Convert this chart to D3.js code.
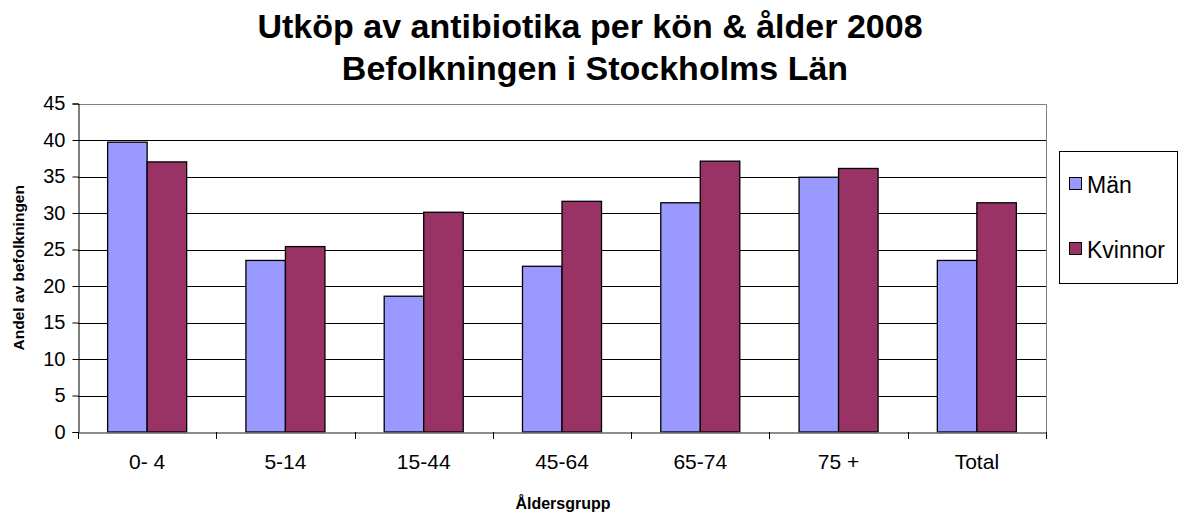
<!DOCTYPE html>
<html>
<head>
<meta charset="utf-8">
<script src="https://cdn.jsdelivr.net/npm/d3@7"></script>
<style>
  body { margin: 0; background: #fff; }
  text { font-family: "Liberation Sans", Arial, sans-serif; }
</style>
</head>
<body>
<div id="chart"></div>
<script>
var categories = ["0- 4", "5-14", "15-44", "45-64", "65-74", "75 +", "Total"];
var seriesNames = ["Män", "Kvinnor"];
var manValues = [39.7, 23.5, 18.6, 22.7, 31.4, 34.9, 23.5];
var kvinnorValues = [37.0, 25.4, 30.1, 31.6, 37.1, 36.1, 31.4];
var yTicks = [0, 5, 10, 15, 20, 25, 30, 35, 40, 45];
var colors = ["#9999ff", "#993366"];

var width = 1179, height = 515;
var plotLeft = 78, plotRight = 1046, plotTop = 103.5, plotBottom = 432;

var svg = d3.select("#chart")
    .append("svg")
    .attr("width", width)
    .attr("height", height);

var x = d3.scaleBand()
    .domain(categories)
    .range([plotLeft, plotRight]);

var y = d3.scaleLinear()
    .domain([0, 45])
    .range([plotBottom, plotTop]);

// bar width: gap width 150% -> group = 3.5 bars
var barW = x.bandwidth() / 3.5;

// gridlines
svg.append("g")
    .selectAll("line")
    .data(yTicks.filter(function (d) { return d > 0 && d < 45; }))
    .enter()
    .append("line")
    .attr("x1", plotLeft)
    .attr("x2", plotRight)
    .attr("y1", function (d) { return Math.round(y(d)) + 0.5; })
    .attr("y2", function (d) { return Math.round(y(d)) + 0.5; })
    .attr("stroke", "#000")
    .attr("stroke-width", 1);

// plot border top and right
svg.append("path")
    .attr("d", "M" + plotLeft + "," + (Math.round(plotTop) + 0.5) + "H" + (plotRight + 0.5) + "V" + plotBottom)
    .attr("fill", "none")
    .attr("stroke", "#808080")
    .attr("stroke-width", 1);

// bars
var data = categories.map(function (c, i) {
    return { cat: c, values: [manValues[i], kvinnorValues[i]] };
});

var group = svg.append("g")
    .selectAll("g")
    .data(data)
    .enter()
    .append("g");

group.selectAll("rect")
    .data(function (d) {
        return d.values.map(function (v, j) { return { cat: d.cat, v: v, j: j }; });
    })
    .enter()
    .append("rect")
    .attr("x", function (d) { return x(d.cat) + barW * 0.75 + d.j * barW; })
    .attr("y", function (d) { return y(d.v); })
    .attr("width", barW)
    .attr("height", function (d) { return plotBottom - y(d.v); })
    .attr("fill", function (d) { return colors[d.j]; })
    .attr("stroke", "#000")
    .attr("stroke-width", 1.3);

// y axis
var yAxis = svg.append("g")
    .attr("transform", "translate(" + (plotLeft + 0.5) + ",0)")
    .call(d3.axisLeft(y).tickValues(yTicks).tickSize(6).tickPadding(7));
yAxis.select(".domain").attr("stroke", "#000");
yAxis.selectAll(".tick line").attr("stroke", "#000");
yAxis.selectAll("text")
    .attr("font-size", 20)
    .attr("fill", "#000")
    .style("font-family", "Liberation Sans, Arial, sans-serif");

// x axis
var xAxis = svg.append("g")
    .attr("transform", "translate(0," + (plotBottom + 0.5) + ")")
    .call(d3.axisBottom(x).tickSize(0).tickPadding(22));
xAxis.select(".domain").attr("stroke", "#666").attr("stroke-width", 1.5);
xAxis.selectAll("text")
    .attr("font-size", 21)
    .attr("fill", "#000")
    .style("font-family", "Liberation Sans, Arial, sans-serif");

// x ticks between categories
var boundaries = categories.map(function (c) { return x(c); }).concat([plotRight]);
svg.append("g")
    .selectAll("line")
    .data(boundaries)
    .enter()
    .append("line")
    .attr("x1", function (d) { return Math.round(d) + 0.5; })
    .attr("x2", function (d) { return Math.round(d) + 0.5; })
    .attr("y1", plotBottom)
    .attr("y2", plotBottom + 7)
    .attr("stroke", "#000");

// titles
svg.append("text")
    .attr("x", 590)
    .attr("y", 38)
    .attr("text-anchor", "middle")
    .attr("font-size", 34)
    .attr("font-weight", "bold")
    .text("Utköp av antibiotika per kön & ålder 2008");

svg.append("text")
    .attr("x", 595)
    .attr("y", 80)
    .attr("text-anchor", "middle")
    .attr("font-size", 34)
    .attr("font-weight", "bold")
    .text("Befolkningen i Stockholms Län");

svg.append("text")
    .attr("transform", "translate(24," + ((plotTop + plotBottom) / 2) + ") rotate(-90)")
    .attr("text-anchor", "middle")
    .attr("font-size", 15.5)
    .attr("font-weight", "bold")
    .text("Andel av befolkningen");

svg.append("text")
    .attr("x", 563)
    .attr("y", 509)
    .attr("text-anchor", "middle")
    .attr("font-size", 16)
    .attr("font-weight", "bold")
    .text("Åldersgrupp");

// legend
var legend = svg.append("g");
legend.append("rect")
    .attr("x", 1059.5)
    .attr("y", 151.5)
    .attr("width", 118)
    .attr("height", 132)
    .attr("fill", "#fff")
    .attr("stroke", "#000");

var item = legend.selectAll(".item")
    .data(seriesNames)
    .enter()
    .append("g")
    .attr("class", "item")
    .attr("transform", function (d, i) { return "translate(0," + (i * 65) + ")"; });

item.append("rect")
    .attr("x", 1069.5)
    .attr("y", 177.5)
    .attr("width", 12)
    .attr("height", 12)
    .attr("fill", function (d, i) { return colors[i]; })
    .attr("stroke", "#000");

item.append("text")
    .attr("x", 1087)
    .attr("y", 193)
    .attr("font-size", 23)
    .text(function (d) { return d; });
</script>
</body>
</html>
